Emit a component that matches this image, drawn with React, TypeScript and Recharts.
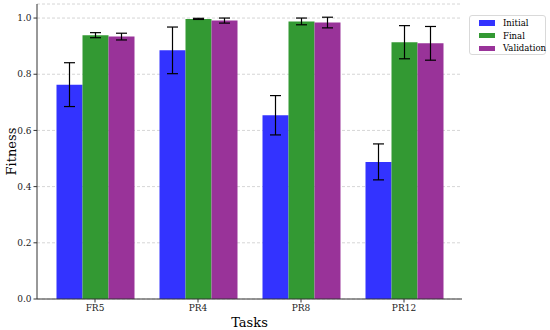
import React from 'react';
import { BarChart, Bar, XAxis, YAxis, CartesianGrid, ErrorBar, Legend } from 'recharts';

const tasks = ['FR5', 'PR4', 'PR8', 'PR12'];
const initial = [0.763, 0.885, 0.654, 0.488];
const initialErr = [0.078, 0.083, 0.07, 0.064];
const finalV = [0.939, 0.997, 0.988, 0.914];
const finalErr = [0.009, 0.002, 0.012, 0.059];
const validation = [0.934, 0.991, 0.984, 0.91];
const validationErr = [0.012, 0.009, 0.019, 0.06];
const yTicks = [0, 0.2, 0.4, 0.6, 0.8, 1.0];

const data = tasks.map((t, i) => ({
  task: t,
  Initial: initial[i],
  initialErr: initialErr[i],
  Final: finalV[i],
  finalErr: finalErr[i],
  Validation: validation[i],
  validationErr: validationErr[i],
}));

const COLORS = { Initial: '#3333ff', Final: '#339933', Validation: '#993399' };
const FONT = '"DejaVu Serif", serif';

const LegendBox = () => (
  <div
    style={{
      position: 'absolute',
      left: 469,
      top: 15,
      width: 77,
      height: 40,
      border: '1px solid #d9d9d9',
      borderRadius: 3,
      background: '#fff',
      fontFamily: FONT,
      fontSize: 8.5,
      color: '#000',
      boxSizing: 'border-box',
    }}
  >
    {(['Initial', 'Final', 'Validation'] as const).map((k, i) => (
      <div key={k} style={{ position: 'absolute', left: 9, top: 0.5 + i * 12.8, height: 12.8, display: 'flex', alignItems: 'center', whiteSpace: 'nowrap' }}>
        <div style={{ width: 16, height: 5.5, background: COLORS[k], marginRight: 8 }} />
        <span>{k}</span>
      </div>
    ))}
  </div>
);

const YLabel = (props: any) => {
  const vb = props.viewBox || {};
  const cy = 4 + 295 / 2;
  const x = 15.5;
  return (
    <text
      x={x}
      y={cy}
      transform={`rotate(-90 ${x} ${cy})`}
      textAnchor="middle"
      fontSize={13}
      fontFamily={FONT}
      fill="#000"
    >
      Fitness
    </text>
  );
};

export default function App() {
  return (
    <div style={{ position: 'fixed', left: 0, top: 0, width: 550, height: 330, background: '#fff' }}>
      <BarChart
        width={550}
        height={330}
        data={data}
        margin={{ top: 4, right: 88, bottom: 0, left: 0 }}
        barGap={0}
        barCategoryGap={13}
      >
        <CartesianGrid vertical={false} strokeDasharray="3 2" stroke="#d6d6d6" />
        <XAxis
          dataKey="task"
          height={31}
          padding={{ left: 6.5, right: 6.5 }}
          tick={{ fontSize: 9, fontFamily: FONT, fill: '#222' }}
          tickSize={3.5}
          tickLine={{ stroke: '#333' }}
          axisLine={{ stroke: '#333' }}
          label={{ value: 'Tasks', position: 'insideBottom', offset: 3, fontSize: 13, fontFamily: FONT, fill: '#000' }}
        />
        <XAxis xAxisId="top" orientation="top" height={0} tick={false} tickLine={false} axisLine={{ stroke: '#333' }} />
        <YAxis
          width={37}
          domain={[0, 1.05]}
          ticks={yTicks}
          tickFormatter={(v: number) => v.toFixed(1)}
          tick={{ fontSize: 9, fontFamily: FONT, fill: '#222' }}
          tickSize={3.5}
          tickLine={{ stroke: '#333' }}
          axisLine={{ stroke: '#333' }}
          label={<YLabel />}
        />
        <YAxis yAxisId="right" orientation="right" width={0} domain={[0, 1.05]} tick={false} tickLine={false} axisLine={{ stroke: '#333' }} />
        <Bar dataKey="Initial" fill={COLORS.Initial} isAnimationActive={false}>
          <ErrorBar dataKey="initialErr" width={5.5} stroke="#000" strokeWidth={1.2} />
        </Bar>
        <Bar dataKey="Final" fill={COLORS.Final} isAnimationActive={false}>
          <ErrorBar dataKey="finalErr" width={5.5} stroke="#000" strokeWidth={1.2} />
        </Bar>
        <Bar dataKey="Validation" fill={COLORS.Validation} isAnimationActive={false}>
          <ErrorBar dataKey="validationErr" width={5.5} stroke="#000" strokeWidth={1.2} />
        </Bar>
        <Legend content={() => null} />
      </BarChart>
      <LegendBox />
    </div>
  );
}
